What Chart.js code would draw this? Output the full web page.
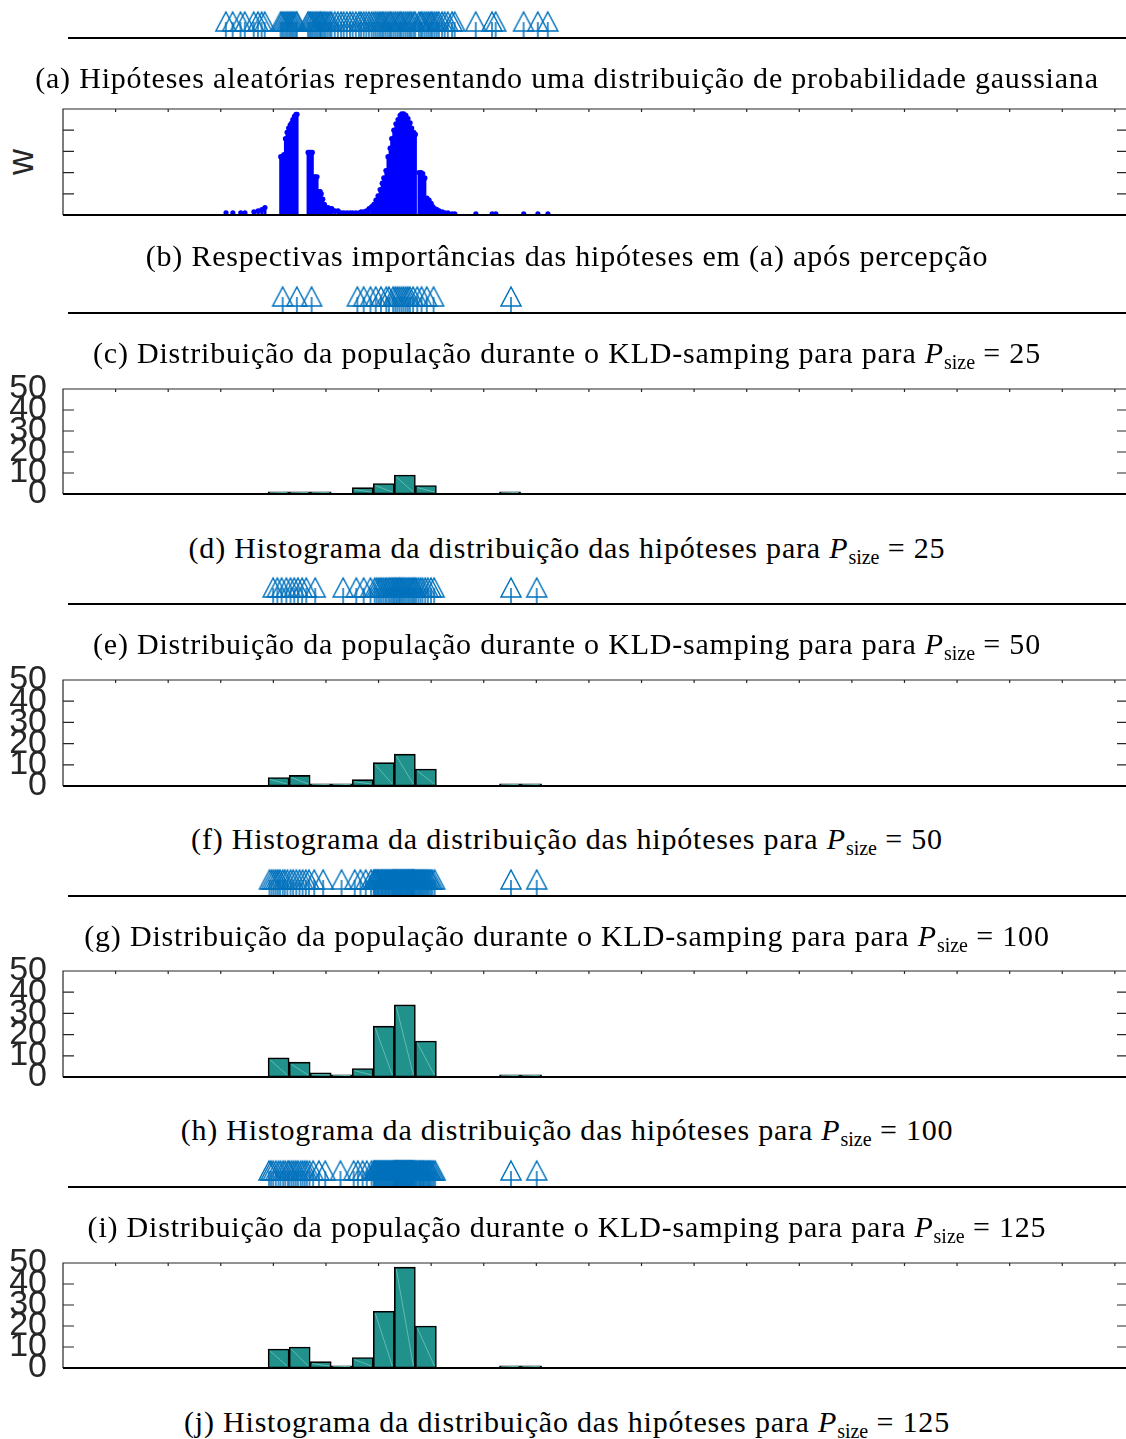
<!DOCTYPE html>
<html>
<head>
<meta charset="utf-8">
<script src="https://cdn.jsdelivr.net/npm/chart.js@4.4.1/dist/chart.umd.min.js"></script>
<style>
html, body { margin: 0; padding: 0; background: #fff; overflow: hidden; width: 1126px; height: 1439px; }
.pane { position: absolute; left: 0; }
.cap { position: absolute; left: 0; width: 1134px; text-align: center; font-family: 'Liberation Serif', 'Times New Roman', serif; font-size: 30px; line-height: 30px; letter-spacing: 0.8px; color: #000; white-space: nowrap; }
.cap i { font-style: italic; }
.cap sub { font-size: 20px; letter-spacing: 0; vertical-align: baseline; position: relative; top: 6px; }
.wlab { position: absolute; left: 3px; top: 143px; width: 36px; height: 38px; font-family: 'Liberation Sans', Arial, sans-serif; font-size: 36px; line-height: 38px; color: #262626; text-align: center; transform: rotate(-90deg); }
</style>
</head>
<body>

<canvas id="arrA" class="pane" style="top:6px" width="1140" height="64"></canvas>
<div class="cap" style="top:63px">(a) Hipóteses aleatórias representando uma distribuição de probabilidade gaussiana</div>

<div class="wlab">w</div>
<canvas id="wB" class="pane" style="top:85px" width="1140" height="154"></canvas>
<div class="cap" style="top:241px">(b) Respectivas importâncias das hipóteses em (a) após percepção</div>

<canvas id="arrC" class="pane" style="top:281px" width="1140" height="64"></canvas>
<div class="cap" style="top:338px">(c) Distribuição da população durante o KLD-samping para para <i>P</i><sub>size</sub> = 25</div>

<canvas id="histD" class="pane" style="top:365px" width="1140" height="153"></canvas>
<div class="cap" style="top:533px">(d) Histograma da distribuição das hipóteses para <i>P</i><sub>size</sub> = 25</div>

<canvas id="arrE" class="pane" style="top:572px" width="1140" height="64"></canvas>
<div class="cap" style="top:629px">(e) Distribuição da população durante o KLD-samping para para <i>P</i><sub>size</sub> = 50</div>

<canvas id="histF" class="pane" style="top:656px" width="1140" height="154"></canvas>
<div class="cap" style="top:824px">(f) Histograma da distribuição das hipóteses para <i>P</i><sub>size</sub> = 50</div>

<canvas id="arrG" class="pane" style="top:864px" width="1140" height="64"></canvas>
<div class="cap" style="top:921px">(g) Distribuição da população durante o KLD-samping para para <i>P</i><sub>size</sub> = 100</div>

<canvas id="histH" class="pane" style="top:947px" width="1140" height="154"></canvas>
<div class="cap" style="top:1115px">(h) Histograma da distribuição das hipóteses para <i>P</i><sub>size</sub> = 100</div>

<canvas id="arrI" class="pane" style="top:1155px" width="1140" height="64"></canvas>
<div class="cap" style="top:1212px">(i) Distribuição da população durante o KLD-samping para para <i>P</i><sub>size</sub> = 125</div>

<canvas id="histJ" class="pane" style="top:1239px" width="1140" height="153"></canvas>
<div class="cap" style="top:1407px">(j) Histograma da distribuição das hipóteses para <i>P</i><sub>size</sub> = 125</div>

<script>
// histogram bins (0.4 wide) and counts per population size
const binCenters = [4.1, 4.5, 4.9, 5.3, 5.7, 6.1, 6.5, 6.9, 7.3, 7.7, 8.1, 8.5, 8.9];
const countsP25  = [1, 1, 1, 0, 3, 5, 9, 4, 0, 0, 0, 1, 0];
const countsP50  = [4, 5, 1, 1, 3, 11, 15, 8, 0, 0, 0, 1, 1];
const countsP100 = [9, 7, 2, 1, 4, 24, 34, 17, 0, 0, 0, 1, 1];
const countsP125 = [9, 10, 3, 1, 5, 27, 48, 20, 0, 0, 0, 1, 1];
const histTicks = [0, 10, 20, 30, 40, 50];
const wTicks = [0, 0.2, 0.4, 0.6, 0.8, 1];

// random gaussian hypotheses (a) and their weights (b)
const hypX = [
  3.10, 3.23, 3.38, 3.46, 3.63, 3.71, 3.78, 3.84,
  4.14, 4.17, 4.20, 4.23, 4.26, 4.29, 4.32, 4.35, 4.37, 4.40, 4.43, 4.45,
  4.66, 4.69, 4.71, 4.74, 4.77, 4.80, 4.83, 4.86, 4.89, 4.91, 4.94, 4.97, 5.00, 5.04, 5.08, 5.11, 5.17, 5.23,
  5.29, 5.34, 5.40, 5.46, 5.51, 5.57,
  5.63, 5.67, 5.72, 5.77, 5.82, 5.87, 5.91, 5.95, 5.99, 6.03, 6.07, 6.10, 6.14, 6.18,
  6.22, 6.25, 6.29, 6.33, 6.37, 6.41, 6.44, 6.48, 6.52, 6.56, 6.60, 6.63, 6.67, 6.70,
  6.77, 6.81, 6.84, 6.88, 6.92, 6.96, 7.00, 7.03, 7.07, 7.11, 7.15, 7.21, 7.26, 7.32,
  7.40, 7.45, 7.85, 8.16, 8.23, 8.76, 9.03, 9.22
];
const hypW = [
  0.02, 0.02, 0.02, 0.02, 0.03, 0.04, 0.05, 0.07,
  0.55, 0.55, 0.57, 0.72, 0.78, 0.82, 0.85, 0.87, 0.90, 0.93, 0.95, 0.95,
  0.59, 0.59, 0.59, 0.59, 0.36, 0.36, 0.36, 0.22, 0.22, 0.20, 0.15, 0.10, 0.07, 0.07, 0.06, 0.06, 0.04, 0.04,
  0.02, 0.02, 0.02, 0.02, 0.02, 0.02,
  0.02, 0.03, 0.03, 0.04, 0.06, 0.08, 0.10, 0.14, 0.18, 0.24, 0.30, 0.35, 0.42, 0.55,
  0.63, 0.72, 0.80, 0.86, 0.90, 0.94, 0.955, 0.955, 0.94, 0.91, 0.87, 0.82, 0.78, 0.76,
  0.40, 0.40, 0.39, 0.35, 0.16, 0.14, 0.11, 0.08, 0.06, 0.05, 0.04, 0.03, 0.02, 0.02,
  0.01, 0.01, 0.01, 0.01, 0.01, 0.01, 0.01, 0.01
];

// populations during KLD-sampling
const popP25 = [
  4.18, 4.45, 4.73,
  5.60, 5.72, 5.85, 5.95, 6.05, 6.15, 6.20, 6.28,
  6.32, 6.36, 6.40, 6.44, 6.48, 6.52, 6.56, 6.60, 6.66,
  6.74, 6.82, 6.92, 7.05,
  8.52
];
const popP50 = [
  4.00, 4.08, 4.16, 4.25,
  4.33, 4.40, 4.47, 4.55, 4.63,
  4.80, 5.33,
  5.58, 5.72, 5.85,
  5.93, 5.97, 6.01, 6.05, 6.09, 6.13, 6.16, 6.20, 6.23, 6.26, 6.29,
  6.31, 6.34, 6.36, 6.39, 6.41, 6.44, 6.46, 6.49, 6.52, 6.55, 6.58, 6.61, 6.64, 6.67, 6.69,
  6.72, 6.76, 6.80, 6.84, 6.89, 6.94, 7.00, 7.06,
  8.52, 9.01
];
const popP100 = [
  3.93, 3.97, 4.01, 4.05, 4.09, 4.13, 4.18, 4.22, 4.27,
  4.33, 4.38, 4.44, 4.50, 4.56, 4.62, 4.68,
  4.78, 4.95, 5.30,
  5.55, 5.66, 5.76, 5.86,
  5.91, 5.92, 5.94, 5.95, 5.97, 5.99, 6.00, 6.02, 6.04, 6.06, 6.07, 6.09,
  6.11, 6.13, 6.14, 6.16, 6.18, 6.20, 6.21, 6.23, 6.25, 6.26, 6.28, 6.29,
  6.30, 6.31, 6.32, 6.33, 6.35, 6.36, 6.37, 6.38, 6.40, 6.41, 6.42, 6.43,
  6.45, 6.46, 6.47, 6.48, 6.50, 6.51, 6.52, 6.53, 6.55, 6.56, 6.57, 6.58,
  6.60, 6.61, 6.62, 6.63, 6.64, 6.65, 6.66, 6.67, 6.68, 6.69,
  6.71, 6.73, 6.75, 6.77, 6.79, 6.81, 6.83, 6.85, 6.87, 6.89, 6.91, 6.93, 6.95, 6.97, 7.00, 7.03, 7.07,
  8.52, 9.01
];
const popP125 = [
  3.92, 3.96, 4.00, 4.05, 4.10, 4.14, 4.19, 4.23, 4.28,
  4.31, 4.35, 4.39, 4.43, 4.47, 4.52, 4.56, 4.60, 4.64, 4.69,
  4.76, 4.87, 4.99, 5.28,
  5.53, 5.61, 5.70, 5.78, 5.87,
  5.91, 5.92, 5.94, 5.95, 5.96, 5.98, 5.99, 6.01, 6.02, 6.04, 6.05, 6.07, 6.08, 6.10,
  6.11, 6.13, 6.14, 6.16, 6.17, 6.19, 6.20, 6.22, 6.23, 6.25, 6.26, 6.28, 6.29,
  6.30, 6.31, 6.31, 6.32, 6.33, 6.34, 6.34, 6.35, 6.36, 6.37, 6.38, 6.38, 6.39, 6.40, 6.41, 6.42,
  6.42, 6.43, 6.44, 6.45, 6.46, 6.46, 6.47, 6.48, 6.49, 6.50, 6.51, 6.52, 6.52, 6.53, 6.54, 6.55,
  6.56, 6.57, 6.57, 6.58, 6.59, 6.60, 6.61, 6.62, 6.62, 6.63, 6.64, 6.65, 6.66, 6.67, 6.68, 6.69,
  6.71, 6.72, 6.74, 6.76, 6.78, 6.79, 6.81, 6.83, 6.85, 6.86, 6.88, 6.90, 6.92, 6.94, 6.96, 6.98, 7.00, 7.03, 7.05, 7.08,
  8.52, 9.01
];

const X_MAX = 20.25;
const AXIS_GRAY = '#262626';
const HIST_FILL = '#21918c';
const ARROW_BLUE = '#0072bd';

// arrow marker: open triangle with a shaft, shaft foot sits at the canvas centre
function makeArrow() {
    const c = document.createElement('canvas');
    c.width = 24; c.height = 56;
    const g = c.getContext('2d');
    g.strokeStyle = ARROW_BLUE;
    g.lineWidth = 1.5;
    g.beginPath();
    g.moveTo(12, 2); g.lineTo(22, 21); g.lineTo(2, 21); g.closePath();
    g.moveTo(12, 12); g.lineTo(12, 27);
    g.stroke();
    return c;
}
const arrowImg = makeArrow();

// box, inward ticks and thick bottom axis
const framePlugin = {
    id: 'frame',
    afterDatasetsDraw(chart, args, opts) {
        const { ctx, chartArea: a, scales: { x, y } } = chart;
        ctx.save();
        if (opts.box) {
            ctx.strokeStyle = AXIS_GRAY;
            ctx.lineWidth = 1.2;
            ctx.beginPath();
            ctx.moveTo(a.left, a.bottom); ctx.lineTo(a.left, a.top);
            ctx.lineTo(a.right, a.top); ctx.lineTo(a.right, a.bottom);
            for (let v = Math.ceil(x.min); v <= x.max; v++) {
                const px = x.getPixelForValue(v);
                ctx.moveTo(px, a.top); ctx.lineTo(px, a.top + 3);
            }
            opts.yTicks.slice(1, -1).forEach(t => {
                const py = y.getPixelForValue(t);
                ctx.moveTo(a.left, py); ctx.lineTo(a.left + 11, py);
                ctx.moveTo(a.right, py); ctx.lineTo(a.right - 11, py);
            });
            ctx.stroke();
        }
        ctx.strokeStyle = '#000';
        ctx.lineWidth = 2.2;
        ctx.beginPath();
        ctx.moveTo(a.left, a.bottom); ctx.lineTo(a.right, a.bottom);
        ctx.stroke();
        ctx.restore();
    }
};

// light diagonal seam inside each histogram bar
const diagPlugin = {
    id: 'diag',
    afterDatasetDraw(chart, args, opts) {
        if (!opts.on) return;
        const ctx = chart.ctx;
        const ds = chart.data.datasets[args.index];
        ctx.save();
        ctx.strokeStyle = '#6cc7bd';
        ctx.lineWidth = 0.8;
        args.meta.data.forEach((bar, i) => {
            if (!ds.data[i].y) return;
            const p = bar.getProps(['x', 'y', 'base', 'width'], true);
            ctx.beginPath();
            ctx.moveTo(p.x - p.width / 2 + 2, p.y + 2);
            ctx.lineTo(p.x + p.width / 2 - 2, p.base - 2);
            ctx.stroke();
        });
        ctx.restore();
    }
};

const quiet = { legend: { display: false }, tooltip: { enabled: false } };

function arrowChart(id, xs) {
    new Chart(document.getElementById(id), {
        type: 'scatter',
        data: { datasets: [{ data: xs.map(v => ({ x: v, y: 0 })), pointStyle: arrowImg, clip: false }] },
        options: {
            responsive: false, animation: false, events: [],
            layout: { padding: { left: 68, right: 12, top: 0, bottom: 32 } },
            scales: {
                x: { type: 'linear', display: false, min: 0.1, max: X_MAX },
                y: { display: false, min: 0, max: 1 }
            },
            plugins: { ...quiet, frame: { box: false } }
        },
        plugins: [framePlugin]
    });
}

function histChart(id, counts) {
    new Chart(document.getElementById(id), {
        type: 'bar',
        data: {
            datasets: [{
                data: binCenters.map((x, i) => ({ x, y: counts[i] })),
                backgroundColor: HIST_FILL,
                borderColor: '#000',
                borderWidth: c => (c.raw && c.raw.y > 0 ? 1.6 : 0),
                borderSkipped: false,
                barPercentage: 1,
                categoryPercentage: 1
            }]
        },
        options: {
            responsive: false, animation: false, events: [],
            layout: { padding: { left: 0, right: 12, top: 24, bottom: 24 } },
            scales: {
                x: { type: 'linear', display: false, min: 0, max: X_MAX, offset: false },
                y: {
                    min: 0, max: 50,
                    // fixed axis width; labels may spill over the box like in the original
                    afterFit: s => { s.width = 63; s.paddingTop = 0; s.paddingBottom = 0; },
                    grid: { display: false, drawTicks: false },
                    border: { display: false },
                    ticks: {
                        stepSize: 10, autoSkip: false, padding: 16, color: AXIS_GRAY,
                        font: { family: "'Liberation Sans', Arial, sans-serif", size: 34 }
                    }
                }
            },
            plugins: { ...quiet, frame: { box: true, yTicks: histTicks }, diag: { on: true } }
        },
        plugins: [framePlugin, diagPlugin]
    });
}

// (b) stem plot of weights
const wPts = hypX.map((x, i) => ({ x, y: hypW[i] }));
new Chart(document.getElementById('wB'), {
    type: 'bar',
    data: {
        datasets: [
            { type: 'scatter', data: wPts, pointRadius: 2.6, backgroundColor: '#0000ff', borderWidth: 0 },
            { type: 'bar', data: wPts, backgroundColor: '#0000ff', barThickness: 2.4 }
        ]
    },
    options: {
        responsive: false, animation: false, events: [],
        layout: { padding: { left: 63, right: 12, top: 24, bottom: 24 } },
        scales: {
            x: { type: 'linear', display: false, min: 0, max: X_MAX, offset: false },
            y: { display: false, min: 0, max: 1 }
        },
        plugins: { ...quiet, frame: { box: true, yTicks: wTicks } }
    },
    plugins: [framePlugin]
});

arrowChart('arrA', hypX);
arrowChart('arrC', popP25);
arrowChart('arrE', popP50);
arrowChart('arrG', popP100);
arrowChart('arrI', popP125);
histChart('histD', countsP25);
histChart('histF', countsP50);
histChart('histH', countsP100);
histChart('histJ', countsP125);
</script>
</body>
</html>
